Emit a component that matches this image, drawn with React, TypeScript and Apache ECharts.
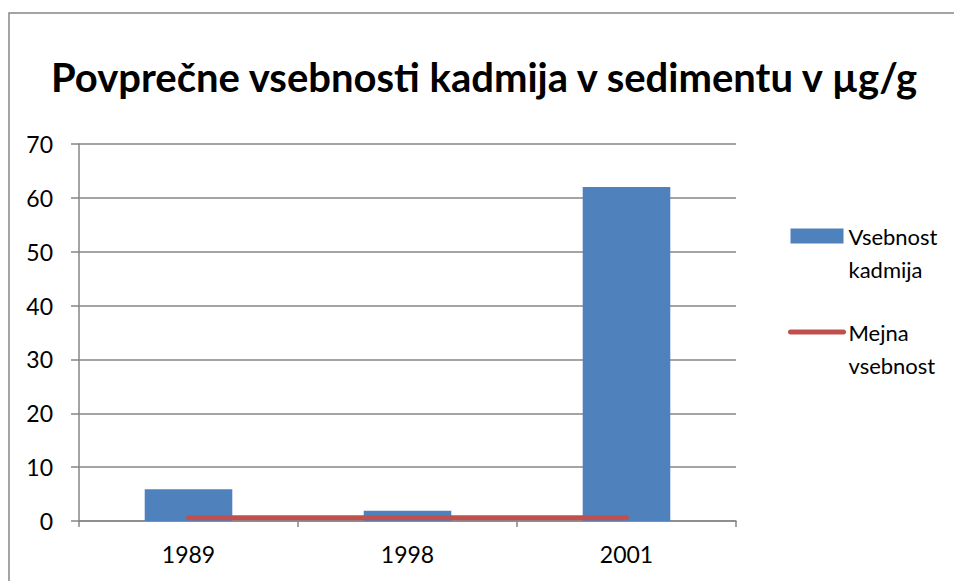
import React, { useEffect, useRef } from "react";
import * as echarts from "echarts";

const titleText = "Povprečne vsebnosti kadmija v sedimentu v µg/g";
const categories = ["1989", "1998", "2001"];
const cadmiumValues = [5.9, 1.9, 62];
const limitValues = [0.6, 0.6, 0.6];
const barName = "Vsebnost kadmija";
const lineName = "Mejna vsebnost";
const yMin = 0;
const yMax = 70;
const yInterval = 10;

export default function App() {
  const ref = useRef<HTMLDivElement>(null);
  useEffect(() => {
    if (!ref.current) return;
    const chart = echarts.init(ref.current, undefined, { renderer: "svg" });
    const font = "Lato, Carlito, Calibri, sans-serif";
    chart.setOption({
      animation: false,
      backgroundColor: "#ffffff",
      textStyle: { fontFamily: font },
      title: {
        text: titleText,
        left: 46,
        top: 52,
        textStyle: { fontFamily: font, fontWeight: "bold", fontSize: 40, color: "#000000" },
      },
      graphic: [
        {
          type: "rect",
          shape: { x: 9, y: 13, width: 960, height: 600 },
          style: { fill: "none", stroke: "#868686", lineWidth: 1.5 },
          silent: true,
        },
      ],
      legend: {
        orient: "vertical",
        left: 783,
        top: 187,
        itemGap: 8,
        itemWidth: 53,
        itemHeight: 15,
        formatter: (name: string) => {
          const parts = name.split(" ");
          return "{e| }\n{t|" + parts[0] + "}\n{t|" + parts[1] + "}";
        },
        textStyle: {
          fontFamily: font,
          fontSize: 22,
          color: "#000000",
          rich: {
            e: { fontSize: 22, lineHeight: 33, fontFamily: font },
            t: { fontSize: 22, lineHeight: 33, fontFamily: font, color: "#000000" },
          },
        },
        data: [
          { name: barName, icon: "rect" },
          {
            name: lineName,
            itemStyle: { opacity: 0, borderWidth: 0 },
            lineStyle: { width: 5, cap: "round", color: "#c0504d", opacity: 1 },
          },
        ],
      },
      grid: { left: 79, right: 218, top: 144, bottom: 60, containLabel: false },
      xAxis: {
        type: "category",
        data: categories,
        axisLine: { lineStyle: { color: "#868686", width: 1.5 } },
        axisTick: { show: true, length: 6, alignWithLabel: false, lineStyle: { color: "#868686", width: 1.5 } },
        axisLabel: { fontFamily: font, fontSize: 23, color: "#000000", margin: 21 },
      },
      yAxis: {
        type: "value",
        min: yMin,
        max: yMax,
        interval: yInterval,
        axisLine: { show: true, lineStyle: { color: "#868686", width: 1.5 } },
        axisTick: { show: true, length: 8, lineStyle: { color: "#868686", width: 1.5 } },
        splitLine: { lineStyle: { color: "#868686", width: 1.5 } },
        axisLabel: { fontFamily: font, fontSize: 23, color: "#000000", margin: 26 },
      },
      series: [
        {
          name: barName,
          type: "bar",
          data: cadmiumValues,
          barWidth: "40%",
          itemStyle: { color: "#4f81bd" },
        },
        {
          name: lineName,
          type: "line",
          data: limitValues,
          symbol: "none",
          showSymbol: false,
          lineStyle: { color: "#c0504d", width: 5, cap: "round" },
          itemStyle: { color: "#c0504d" },
        },
      ],
    });
    return () => chart.dispose();
  }, []);
  return (
    <div
      ref={ref}
      style={{ position: "fixed", left: 0, top: 0, width: 954, height: 581 }}
    />
  );
}
